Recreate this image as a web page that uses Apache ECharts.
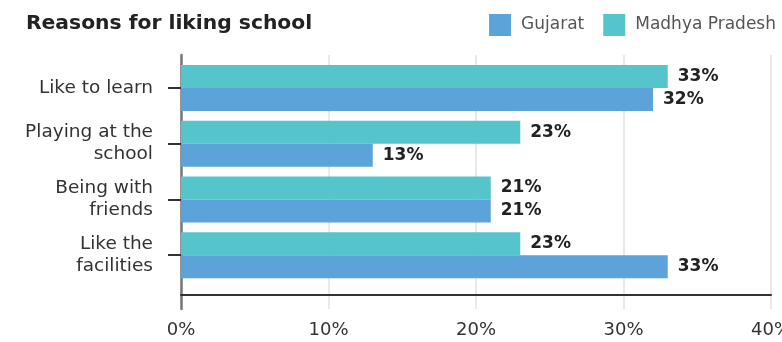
<!DOCTYPE html>
<html>
<head>
<meta charset="utf-8">
<script src="https://cdn.jsdelivr.net/npm/echarts@6/dist/echarts.min.js"></script>
<style>
  html, body { margin: 0; padding: 0; background: #fff; }
  #chart { width: 782px; height: 342px; }
</style>
</head>
<body>
<div id="chart"></div>
<script>
// Reasons for liking school, by state (% of students)
const categories = ['Like to learn', 'Playing at the\nschool', 'Being with\nfriends', 'Like the\nfacilities'];
const gujarat = [32, 13, 21, 33];
const madhyaPradesh = [33, 23, 21, 23];
const xTicks = [0, 10, 20, 30, 40];

const FONT = '"DejaVu Sans", sans-serif';
const BLUE = '#5ba3d9';
const TEAL = '#56c5cb';

const chart = echarts.init(document.getElementById('chart'), null, { renderer: 'canvas' });

const valueLabel = {
  show: true,
  position: 'right',
  distance: 10,
  formatter: '{c}%',
  fontFamily: FONT,
  fontWeight: 'bold',
  fontSize: 17,
  color: '#222'
};

chart.setOption({
  animation: false,
  title: {
    text: 'Reasons for liking school',
    left: 21,
    top: 9,
    textStyle: { fontFamily: FONT, fontWeight: 'bold', fontSize: 20.3, color: '#222' }
  },
  legend: {
    data: ['Gujarat', 'Madhya Pradesh'],
    right: 1,
    top: 9,
    itemWidth: 22,
    itemHeight: 22,
    itemGap: 19,
    icon: 'rect',
    textStyle: { fontFamily: FONT, fontSize: 17, color: '#555', padding: [0, 0, 0, 5] }
  },
  grid: [
    // frame grid: gridlines and the left rule span the full height
    { left: 181, right: 11, top: 55, bottom: 33, outerBoundsMode: 'none' },
    // bar grid
    { left: 181, right: 11, top: 60, height: 223, outerBoundsMode: 'none' }
  ],
  xAxis: [
    {
      gridIndex: 0,
      type: 'value',
      min: 0,
      max: 40,
      interval: 10,
      offset: -14,
      axisLine: { show: true, lineStyle: { color: '#333', width: 2 } },
      axisTick: { show: false },
      splitLine: { show: true, lineStyle: { color: '#e2e2e2', width: 1.5 } },
      axisLabel: {
        margin: 26,
        fontFamily: FONT,
        fontSize: 18,
        color: '#333',
        formatter: v => (xTicks.includes(v) ? v + '%' : '')
      }
    },
    {
      gridIndex: 1,
      type: 'value',
      min: 0,
      max: 40,
      interval: 10,
      show: false
    }
  ],
  yAxis: [
    {
      gridIndex: 0,
      type: 'value',
      axisLine: { show: true, lineStyle: { color: '#777', width: 2.5 } },
      axisTick: { show: false },
      axisLabel: { show: false },
      splitLine: { show: false }
    },
    {
      gridIndex: 1,
      type: 'category',
      data: categories,
      inverse: true,
      axisLine: { show: false },
      axisTick: { show: true, length: 13, alignWithLabel: true, lineStyle: { color: '#333', width: 2 } },
      axisLabel: {
        margin: 28,
        fontFamily: FONT,
        fontSize: 18.5,
        lineHeight: 22,
        color: '#333',
        align: 'right'
      }
    }
  ],
  series: [
    {
      name: 'Madhya Pradesh',
      type: 'bar',
      xAxisIndex: 1,
      yAxisIndex: 1,
      data: madhyaPradesh,
      barWidth: 23,
      barGap: '0%',
      barCategoryGap: '17%',
      itemStyle: { color: TEAL },
      label: valueLabel
    },
    {
      name: 'Gujarat',
      type: 'bar',
      xAxisIndex: 1,
      yAxisIndex: 1,
      data: gujarat,
      barWidth: 23,
      barGap: '0%',
      itemStyle: { color: BLUE },
      label: valueLabel
    }
  ]
});
</script>
</body>
</html>
